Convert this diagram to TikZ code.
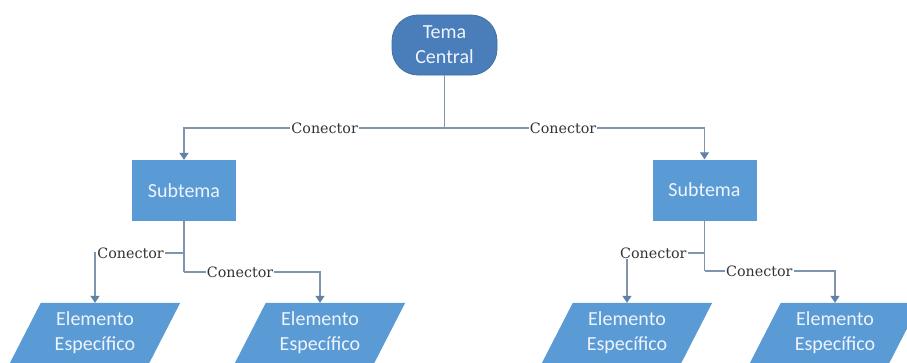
\documentclass[tikz,border=0pt]{standalone}
\usepackage{fontspec}
\setmainfont{Carlito}
\newfontfamily\labelfont{DejaVu Serif}
\usetikzlibrary{arrows.meta,backgrounds,calc}
\definecolor{temafill}{HTML}{4A7EBB}
\definecolor{temaline}{HTML}{41719C}
\definecolor{boxfill}{HTML}{5B9BD5}
\definecolor{linecol}{HTML}{7F95AD}
\definecolor{tipcol}{HTML}{5F82A8}
\definecolor{nodetext}{HTML}{EEF4FB}
\definecolor{labeltext}{HTML}{333333}
\newcommand{\elemtext}{\raisebox{-2pt}{\begin{tabular}{@{}c@{}}Elemento\\Específico\end{tabular}}}
\begin{document}
\begin{tikzpicture}[x=1pt,y=-1pt,
  nodetxt/.style={font=\fontsize{20}{25}\selectfont, text=nodetext, align=center, inner sep=0pt},
  temabox/.style={nodetxt, rectangle, rounded corners=26pt, fill=temafill, draw=temaline, line width=0.8pt, minimum width=105pt, minimum height=60pt},
  subbox/.style={nodetxt, rectangle, fill=boxfill, minimum width=104pt, minimum height=61pt},
  elembox/.style={nodetxt, rectangle, minimum width=139pt, minimum height=60pt},
  conn/.style={draw=linecol, line width=1.2pt},
  arr/.style={conn, -{Triangle[width=9pt,length=7pt,color=tipcol]}},
  lbl/.style={font=\labelfont\fontsize{14.3}{16}\selectfont, text=labeltext, fill=white, inner sep=1pt}
]
\useasboundingbox (0,0) rectangle (907,362);

\node[temabox] (tema) at (444.5,45) {Tema\\Central};
\node[subbox] (sub1) at (184,190.5) {Subtema};
\node[subbox] (sub2) at (704.5,190) {Subtema};
\node[elembox] (e1) at (95,333) {\elemtext};
\node[elembox] (e2) at (320,333) {\elemtext};
\node[elembox] (e3) at (627,333) {\elemtext};
\node[elembox] (e4) at (835,333) {\elemtext};

\begin{scope}[on background layer]
\fill[white] (0,0) rectangle (907,362);
\foreach \e in {e1,e2,e3,e4}
  \fill[boxfill] ($(\e.north west)+(15.5,0)$) -- ($(\e.north east)+(15.5,0)$)
    -- ($(\e.south east)+(-15.5,0)$) -- ($(\e.south west)+(-15.5,0)$) -- cycle;
\end{scope}

\coordinate (jt) at (444.5,128);
\coordinate (j1a) at (184,253);
\coordinate (j1b) at (184,272);
\coordinate (j2a) at (704.5,253);
\coordinate (j2b) at (704.5,271);

\draw[conn] (tema.south) -- (jt);
\draw[arr] (jt) -| node[lbl,pos=0.23]{Conector} (sub1.north);
\draw[arr] (jt) -| node[lbl,pos=0.228]{Conector} (sub2.north);

\draw[conn] (sub1.south) -- (j1b);
\draw[arr] (j1a) -| node[lbl,pos=0.30]{Conector} (e1.north);
\draw[arr] (j1b) -| node[lbl,pos=0.206]{Conector} (e2.north);

\draw[conn] (sub2.south) -- (j2b);
\draw[arr] (j2a) -| node[lbl,pos=0.33]{Conector} (e3.north);
\draw[arr] (j2b) -| node[lbl,pos=0.21]{Conector} (e4.north);
\end{tikzpicture}
\end{document}
